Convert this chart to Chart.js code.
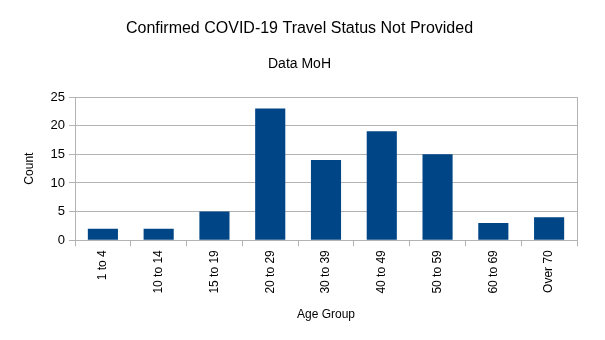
<!DOCTYPE html>
<html>
<head>
<meta charset="utf-8">
<script src="https://cdn.jsdelivr.net/npm/chart.js@4"></script>
<style>
  body { margin: 0; background: #fff; }
  #chartEdad { display: block; }
</style>
</head>
<body>
<canvas id="chartEdad" width="605" height="340"></canvas>
<script>
const grupos = ['1 to 4', '10 to 14', '15 to 19', '20 to 29', '30 to 39', '40 to 49', '50 to 59', '60 to 69', 'Over 70'];
const casos = [2, 2, 5, 23, 14, 19, 15, 3, 4];
const ticksY = [0, 5, 10, 15, 20, 25];

Chart.defaults.font.family = '"Liberation Sans", Arial, sans-serif';
Chart.defaults.color = '#000';

// borde gris alrededor del area del grafico
const bordeArea = {
  id: 'bordeArea',
  beforeDatasetsDraw(chart) {
    const a = chart.chartArea;
    const c = chart.ctx;
    c.save();
    c.strokeStyle = '#b3b3b3';
    c.lineWidth = 1;
    c.strokeRect(Math.round(a.left) + 0.5, Math.round(a.top) + 0.5, Math.round(a.right - a.left), Math.round(a.bottom - a.top));
    c.restore();
  }
};

const ctx = document.getElementById('chartEdad');
let grafico = new Chart(ctx, {
  type: 'bar',
  data: {
    labels: grupos,
    datasets: [{
      label: 'Count',
      data: casos,
      backgroundColor: '#004586',
      borderWidth: 0,
      barPercentage: 0.54,
      categoryPercentage: 1
    }]
  },
  options: {
    responsive: false,
    animation: false,
    layout: {
      padding: { top: 19, right: 28, bottom: 14, left: 22 }
    },
    plugins: {
      legend: { display: false },
      tooltip: { enabled: false },
      title: {
        display: true,
        text: 'Confirmed COVID-19 Travel Status Not Provided',
        font: { size: 16, weight: 'normal' },
        padding: { top: 0, bottom: 18 }
      },
      subtitle: {
        display: true,
        text: 'Data MoH',
        font: { size: 14 },
        padding: { top: 0, bottom: 24 }
      }
    },
    scales: {
      x: {
        grid: {
          offset: true,
          drawOnChartArea: false,
          color: '#b3b3b3',
          tickLength: 6
        },
        border: { color: '#b3b3b3' },
        ticks: {
          font: { size: 12 },
          minRotation: 90,
          maxRotation: 90,
          padding: 4
        },
        title: {
          display: true,
          text: 'Age Group',
          font: { size: 12 },
          padding: { top: 10 }
        }
      },
      y: {
        min: 0,
        max: 25,
        afterBuildTicks(axis) {
          axis.ticks = ticksY.map(v => ({ value: v }));
        },
        afterFit(axis) {
          axis.width = 53;
        },
        grid: {
          color: '#b3b3b3',
          tickLength: 6
        },
        border: { color: '#b3b3b3' },
        ticks: {
          font: { size: 13 },
          padding: 4
        },
        title: {
          display: true,
          text: 'Count',
          font: { size: 12 },
          padding: { top: 0, bottom: 12 }
        }
      }
    }
  },
  plugins: [bordeArea]
});
</script>
</body>
</html>
